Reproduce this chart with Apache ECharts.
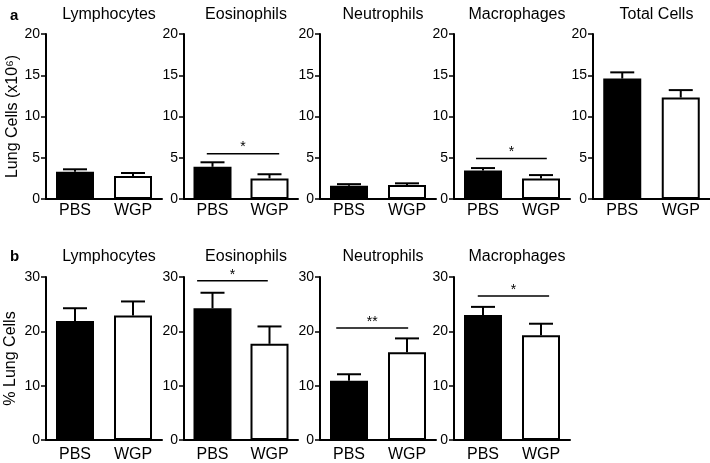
<!DOCTYPE html>
<html><head><meta charset="utf-8">
<script src="https://cdn.jsdelivr.net/npm/echarts@6/dist/echarts.min.js"></script>
<style>html,body{margin:0;padding:0;background:#fff}#c{width:710px;height:463px}</style>
</head><body><div id="c"></div>
<script>
// ---- data ----
const groups = ['PBS', 'WGP'];
const topTitles = ['Lymphocytes', 'Eosinophils', 'Neutrophils', 'Macrophages', 'Total Cells'];
const topPBS = [3.3, 3.9, 1.6, 3.45, 14.6];
const topPBSErr = [0.3, 0.55, 0.2, 0.3, 0.75];
const topWGP = [2.8, 2.5, 1.7, 2.5, 12.3];
const topWGPErr = [0.35, 0.5, 0.2, 0.4, 0.9];
const topTicks = [0, 5, 10, 15, 20];
const topYTitle = 'Lung Cells (x10\u2076)';

const bottomTitles = ['Lymphocytes', 'Eosinophils', 'Neutrophils', 'Macrophages'];
const bottomPBS = [21.9, 24.25, 10.9, 23.0];
const bottomPBSErr = [2.35, 2.85, 1.2, 1.5];
const bottomWGP = [22.9, 17.7, 16.15, 19.3];
const bottomWGPErr = [2.6, 3.2, 2.55, 2.1];
const bottomTicks = [0, 10, 20, 30];
const bottomYTitle = '% Lung Cells';

// significance: panel index, bracket height (axis value), label
const topSigPanel = [1, 3];
const topSigY = [5.5, 4.9];
const topSigLabel = ['*', '*'];
const bottomSigPanel = [1, 2, 3];
const bottomSigY = [29.3, 20.6, 26.5];
const bottomSigLabel = ['*', '**', '*'];

// ---- layout (positions/styles) ----
const FONT = 'Liberation Sans, Arial, Helvetica, sans-serif';
const lefts = [46, 184, 320, 454, 593];
const widths = [116, 114, 116, 116, 117];
const topSigSpan = [[-0.1, 1.17], [-0.12, 1.1]];
const bottomSigSpan = [[-0.27, 0.97], [-0.22, 1.02], [-0.09, 1.14]];
const rows = [
  {top: 34, height: 165, titleTop: 2, letter: 'a', letterTop: 3, titles: topTitles, xMargin: 4,
   pbs: topPBS, pbsErr: topPBSErr, wgp: topWGP, wgpErr: topWGPErr, ticks: topTicks,
   yTitle: topYTitle, nameGap: 23, sigPanel: topSigPanel, sigY: topSigY, sigLabel: topSigLabel, sigSpan: topSigSpan},
  {top: 277, height: 163, titleTop: 244, letter: 'b', letterTop: 244, titles: bottomTitles, xMargin: 7,
   pbs: bottomPBS, pbsErr: bottomPBSErr, wgp: bottomWGP, wgpErr: bottomWGPErr, ticks: bottomTicks,
   yTitle: bottomYTitle, nameGap: 27, sigPanel: bottomSigPanel, sigY: bottomSigY, sigLabel: bottomSigLabel, sigSpan: bottomSigSpan}
];

const grid = [], xAxis = [], yAxis = [], series = [], title = [];
let gi = 0;
rows.forEach((row) => {
  title.push({text: row.letter, left: 5, top: row.letterTop,
    textStyle: {fontFamily: FONT, fontSize: 15, fontWeight: 'bold', color: '#000'}});
  const tMin = row.ticks[0], tMax = row.ticks[row.ticks.length - 1];
  const tInt = row.ticks[1] - row.ticks[0];
  row.titles.forEach((name, p) => {
    grid.push({left: lefts[p], top: row.top, width: widths[p], height: row.height, containLabel: false});
    title.push({text: name, left: lefts[p] + widths[p] / 2, top: row.titleTop, textAlign: 'center',
      textStyle: {fontFamily: FONT, fontSize: 16, fontWeight: 'normal', color: '#000'}});
    xAxis.push({type: 'category', gridIndex: gi, data: groups, boundaryGap: true,
      axisLine: {lineStyle: {color: '#000', width: 2}}, axisTick: {show: false},
      axisLabel: {fontFamily: FONT, fontSize: 16, color: '#000', margin: row.xMargin}});
    yAxis.push({type: 'value', gridIndex: gi, min: tMin, max: tMax, interval: tInt,
      name: p === 0 ? row.yTitle : '', nameLocation: 'middle', nameGap: row.nameGap, nameRotate: 90,
      nameTextStyle: {fontFamily: FONT, fontSize: 16, color: '#000'},
      axisLine: {show: true, lineStyle: {color: '#000', width: 2}},
      axisTick: {show: true, inside: false, length: 5, lineStyle: {color: '#000', width: 1.5}},
      splitLine: {show: false},
      axisLabel: {fontFamily: FONT, fontSize: 14, color: '#000', margin: 6}});
    series.push({type: 'bar', xAxisIndex: gi, yAxisIndex: gi, barWidth: 38,
      data: [{value: row.pbs[p], itemStyle: {color: '#000'}}, {value: row.wgp[p], itemStyle: {color: '#fff'}}],
      itemStyle: {borderColor: '#000', borderWidth: 2}, silent: true, animation: false});
    series.push({type: 'custom', xAxisIndex: gi, yAxisIndex: gi, animation: false, silent: true, z: 3,
      data: [[0, row.pbs[p], row.pbsErr[p]], [1, row.wgp[p], row.wgpErr[p]]],
      encode: {x: 0, y: 1},
      renderItem: function (params, api) {
        const a = api.coord([api.value(0), api.value(1)]);
        const b = api.coord([api.value(0), api.value(1) + api.value(2)]);
        const st = {stroke: '#000', lineWidth: 2};
        return {type: 'group', children: [
          {type: 'line', shape: {x1: a[0], y1: a[1], x2: b[0], y2: b[1]}, style: st},
          {type: 'line', shape: {x1: b[0] - 12, y1: b[1], x2: b[0] + 12, y2: b[1]}, style: st}
        ]};
      }});
    const si = row.sigPanel.indexOf(p);
    if (si >= 0) {
      const span = row.sigSpan[si];
      const lab = row.sigLabel[si];
      series.push({type: 'custom', xAxisIndex: gi, yAxisIndex: gi, animation: false, silent: true, z: 4,
        data: [[0, row.sigY[si]]], encode: {x: 0, y: 1}, clip: false,
        renderItem: function (params, api) {
          const c = api.coord([0, api.value(1)]);
          const band = api.size([1, 0])[0];
          const x1 = c[0] + span[0] * band, x2 = c[0] + span[1] * band;
          return {type: 'group', children: [
            {type: 'line', shape: {x1: x1, y1: c[1], x2: x2, y2: c[1]}, style: {stroke: '#000', lineWidth: 1.5}},
            {type: 'text', x: (x1 + x2) / 2, y: c[1] + 1,
              style: {text: lab, fontFamily: FONT, fontSize: 14, fill: '#000', align: 'center', verticalAlign: 'bottom'}}
          ]};
        }});
    }
    gi++;
  });
});

const chart = echarts.init(document.getElementById('c'), null, {renderer: 'canvas'});
chart.setOption({animation: false, backgroundColor: '#fff', title, grid, xAxis, yAxis, series});
</script>
</body></html>
